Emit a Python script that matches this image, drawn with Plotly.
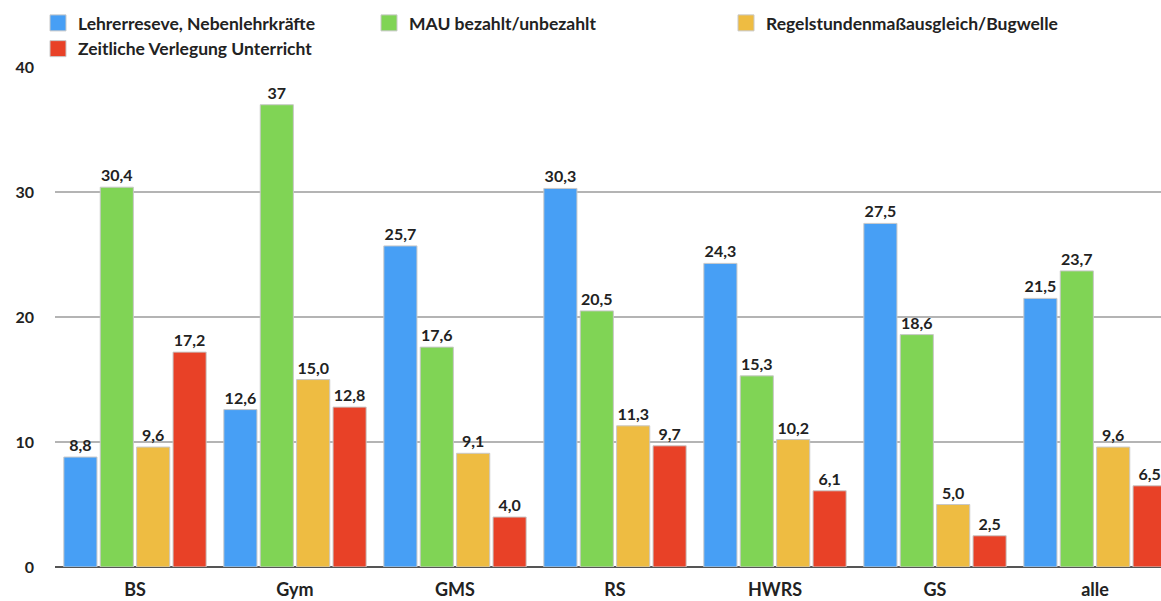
import plotly.graph_objects as go

categories = ["BS", "Gym", "GMS", "RS", "HWRS", "GS", "alle"]
series_names = [
    "Lehrerreseve, Nebenlehrkräfte",
    "MAU bezahlt/unbezahlt",
    "Regelstundenmaßausgleich/Bugwelle",
    "Zeitliche Verlegung Unterricht",
]
lehrerreserve = [8.8, 12.6, 25.7, 30.3, 24.3, 27.5, 21.5]
mau = [30.4, 37.0, 17.6, 20.5, 15.3, 18.6, 23.7]
regelstunden = [9.6, 15.0, 9.1, 11.3, 10.2, 5.0, 9.6]
verlegung = [17.2, 12.8, 4.0, 9.7, 6.1, 2.5, 6.5]
colors = ["#479ff5", "#80d455", "#eebc42", "#e84127"]
y_ticks = [0, 10, 20, 30, 40]

W, H = 1161, 601
ML, MT, MB = 55, 67, 34
FONT = "Lato"


def fmt(v):
    if v == 37.0:
        return "37"
    return f"{v:.1f}".replace(".", ",")


fig = go.Figure()
legend_ids = ["legend", "legend2", "legend3", "legend"]
for name, vals, col, lg in zip(series_names,
                               [lehrerreserve, mau, regelstunden, verlegung],
                               colors, legend_ids):
    fig.add_trace(go.Bar(
        x=categories, y=vals, name=name, showlegend=False,
        marker=dict(color=col, line=dict(color="#c8c8c8", width=1)),
        text=[fmt(v) for v in vals], textposition="outside",
        textfont=dict(family=FONT, size=16, color="#222222", weight="bold"),
        cliponaxis=False,
    ))
    # legend entry with a larger square swatch
    fig.add_trace(go.Scatter(
        x=[None], y=[None], mode="markers", name=name, legend=lg,
        marker=dict(symbol="square", size=16, color=col,
                    line=dict(color="#c8c8c8", width=1)),
        hoverinfo="skip",
    ))

# plot area extends past the right edge of the window (cropped look)
cat_px = 160.0
plot_w = W - ML
x_end = -0.5 + plot_w / cat_px

legfont = dict(family=FONT, size=17.5, color="#222222", weight="bold")
common_leg = dict(xref="container", yref="container", xanchor="left", yanchor="top",
                  font=legfont, bgcolor="rgba(0,0,0,0)", tracegroupgap=2,
                  itemclick=False, itemsizing="trace")

fig.update_layout(
    width=W, height=H,
    margin=dict(l=ML, r=0, t=MT, b=MB, pad=0, autoexpand=False),
    paper_bgcolor="white", plot_bgcolor="white",
    barmode="group", bargap=0.09, bargroupgap=0.09,
    showlegend=True,
    legend=dict(x=38 / W, y=1 - 5 / H, orientation="v", **common_leg),
    legend2=dict(x=369 / W, y=1 - 5 / H, orientation="v", **common_leg),
    legend3=dict(x=726 / W, y=1 - 5 / H, orientation="v", **common_leg),
    xaxis=dict(
        range=[-0.5, x_end], showgrid=False, showline=False, zeroline=False,
        ticks="", tickfont=dict(family=FONT, size=18, color="#222222", weight="bold"),
        ticklabelstandoff=10, automargin=False,
    ),
    yaxis=dict(
        range=[0, 40.02], tickvals=y_ticks, showgrid=True, gridcolor="#b4b4b4", gridwidth=2,
        zeroline=True, zerolinecolor="#555555", zerolinewidth=2,
        showline=False, ticks="", ticklabelstandoff=20, automargin=False,
        tickfont=dict(family=FONT, size=16, color="#222222", weight="bold"),
    ),
)

fig.write_html("out.html")
